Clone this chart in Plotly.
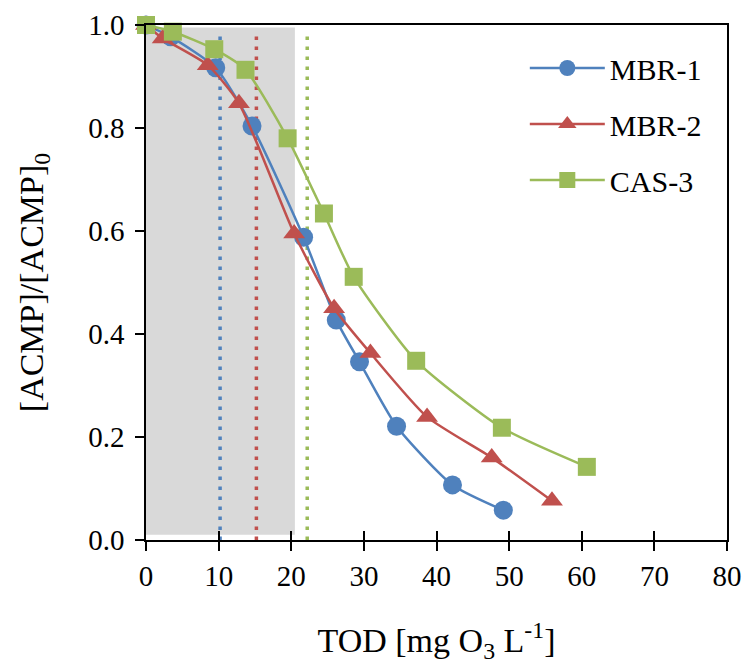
import plotly.graph_objects as go

# Data
mbr1_x = [0, 3.4, 9.6, 14.6, 21.7, 26.2, 29.4, 34.5, 42.2, 49.2]
mbr1_y = [1.0, 0.977, 0.917, 0.804, 0.588, 0.427, 0.346, 0.221, 0.107, 0.058]
mbr2_x = [0, 2.3, 8.5, 12.8, 20.4, 25.9, 30.9, 38.7, 47.6, 55.9]
mbr2_y = [1.0, 0.974, 0.922, 0.848, 0.595, 0.450, 0.363, 0.239, 0.160, 0.076]
cas3_x = [0, 3.7, 9.4, 13.7, 19.5, 24.5, 28.6, 37.2, 49.0, 60.7]
cas3_y = [1.0, 0.987, 0.953, 0.913, 0.780, 0.634, 0.511, 0.348, 0.218, 0.142]
thresholds = [10.2, 15.2, 22.2]
shade_x = [0, 20.5]
shade_y = [0.01, 0.995]
names = ["MBR-1", "MBR-2", "CAS-3"]
colors = ["#4F81BD", "#C0504D", "#9BBB59"]
symbols = ["circle", "triangle-up", "square"]
sizes = [19, 19, 18]
x_ticks = [0, 10, 20, 30, 40, 50, 60, 70, 80]
y_ticks = [0.0, 0.2, 0.4, 0.6, 0.8, 1.0]

FONT = "Liberation Serif"

fig = go.Figure()

fig.add_shape(type="rect", xref="x", yref="y", x0=shade_x[0], x1=shade_x[1],
              y0=shade_y[0], y1=shade_y[1], fillcolor="#D9D9D9",
              line=dict(width=0), layer="below")

for t, c in zip(thresholds, colors):
    fig.add_trace(go.Scatter(x=[t, t], y=[0, 0.985], mode="lines",
                             line=dict(color=c, width=3.5, dash="3.5px,6.5px"),
                             showlegend=False, hoverinfo="skip"))

series = [(mbr1_x, mbr1_y), (mbr2_x, mbr2_y), (cas3_x, cas3_y)]
for (xs, ys), n, c, s, sz in zip(series, names, colors, symbols, sizes):
    fig.add_trace(go.Scatter(x=xs, y=ys, name=n, mode="lines+markers",
                             line=dict(color=c, width=2.5, shape="spline", smoothing=0.6),
                             marker=dict(symbol=s, size=sz, color=c),
                             cliponaxis=False, legendgroup=n))

# overlay axis to make crossing ticks on x
fig.add_trace(go.Scatter(x=[None], y=[None], xaxis="x2", showlegend=False))

fig.update_layout(
    width=744, height=666,
    margin=dict(l=146, r=17, t=25, b=126, autoexpand=False),
    paper_bgcolor="white", plot_bgcolor="white",
    font=dict(family=FONT, size=29, color="black"),
    showlegend=True,
    legend=dict(x=0.652, y=0.967, xanchor="left", yanchor="top",
                bgcolor="rgba(0,0,0,0)", font=dict(size=30, family=FONT, color="black"),
                tracegroupgap=14, itemwidth=75),
    xaxis=dict(range=[0, 80], tickvals=x_ticks, ticktext=[str(v) for v in x_ticks],
               tickfont=dict(family=FONT, size=29, color="black"), automargin=False,
               showline=True, linecolor="black", linewidth=1.5, mirror=True,
               ticks="outside", ticklen=9, tickcolor="black", tickwidth=1.5,
               showgrid=False, zeroline=False,
               title=dict(text="TOD [mg O<sub>3</sub> L<sup>-1</sup>]",
                          font=dict(family=FONT, size=34, color="black"), standoff=38)),
    xaxis2=dict(range=[0, 80], overlaying="x", side="bottom", tickvals=x_ticks,
                showticklabels=False, ticks="inside", ticklen=9, tickcolor="black",
                tickwidth=1.5, showgrid=False, zeroline=False, showline=False,
                automargin=False),
    yaxis=dict(range=[0, 1.0], tickvals=y_ticks, ticktext=["%.1f" % v for v in y_ticks],
               tickfont=dict(family=FONT, size=29, color="black"), automargin=False,
               ticklabelstandoff=5,
               showline=True, linecolor="black", linewidth=1.5, mirror=True,
               ticks="outside", ticklen=9, tickcolor="black", tickwidth=1.5,
               showgrid=False, zeroline=False,
               title=dict(text="[ACMP]/[ACMP]<sub>0</sub>",
                          font=dict(family=FONT, size=34, color="black"), standoff=34)),
)

fig.write_html("out.html")
